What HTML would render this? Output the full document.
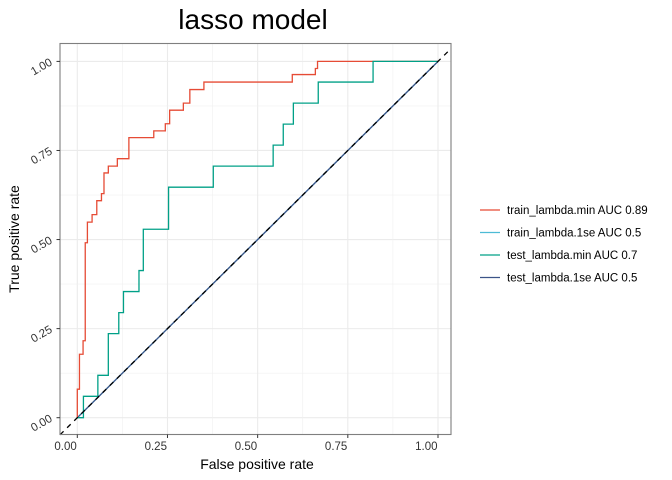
<!DOCTYPE html>
<html><head><meta charset="utf-8"><style>
body{margin:0;background:#fff;}
svg{display:block;font-family:"Liberation Sans",sans-serif;}
</style></head><body>
<svg id="chart" width="672" height="480" viewBox="0 0 672 480" xmlns="http://www.w3.org/2000/svg">
<text x="253" y="29" font-size="28" text-anchor="middle" fill="#000">lasso model</text>
<g id="grid"></g>
<g id="series"></g>
<rect x="60" y="43.5" width="391" height="391" fill="none" stroke="#7f7f7f" stroke-width="1.1"/>
<g id="axes"></g>
<text x="257" y="469" font-size="14" text-anchor="middle">False positive rate</text>
<text transform="translate(19,239) rotate(-90)" font-size="14" text-anchor="middle">True positive rate</text>
<g id="legend"></g>
</svg>
<script>
const ticks=[0,0.25,0.5,0.75,1];
const tickLabels=["0.00","0.25","0.50","0.75","1.00"];
const trainMinFpr=[0,0,0.006,0.006,0.016,0.016,0.022,0.022,0.028,0.028,0.041,0.041,0.054,0.054,0.067,0.067,0.074,0.074,0.086,0.086,0.111,0.111,0.143,0.143,0.212,0.212,0.244,0.244,0.256,0.256,0.294,0.294,0.312,0.312,0.351,0.351,0.596,0.596,0.66,0.66,0.666,0.666,1];
const trainMinTpr=[0,0.08,0.08,0.178,0.178,0.216,0.216,0.491,0.491,0.549,0.549,0.57,0.57,0.609,0.609,0.629,0.629,0.687,0.687,0.706,0.706,0.727,0.727,0.786,0.786,0.805,0.805,0.825,0.825,0.863,0.863,0.883,0.883,0.921,0.921,0.942,0.942,0.963,0.963,0.98,0.98,1,1];
const testMinFpr=[0,0.017,0.017,0.057,0.057,0.086,0.086,0.115,0.115,0.128,0.128,0.171,0.171,0.183,0.183,0.253,0.253,0.377,0.377,0.543,0.543,0.571,0.571,0.599,0.599,0.668,0.668,0.82,0.82,1];
const testMinTpr=[0,0,0.06,0.06,0.119,0.119,0.236,0.236,0.295,0.295,0.354,0.354,0.413,0.413,0.529,0.529,0.647,0.647,0.706,0.706,0.765,0.765,0.824,0.824,0.883,0.883,0.942,0.942,1,1];
const train1seFpr=[0,1], train1seTpr=[0,1];
const test1seFpr=[0,1], test1seTpr=[0,1];
const legendLabels=["train_lambda.min AUC 0.89","train_lambda.1se AUC 0.5","test_lambda.min AUC 0.7","test_lambda.1se AUC 0.5"];
const colors=["#E64B35","#4DBBD5","#00A087","#3C5488"];

const NS="http://www.w3.org/2000/svg";
const X=v=>77.3+v*360.7, Y=v=>417.7-v*356.3;
function mk(tag,attrs,parent){const e=document.createElementNS(NS,tag);for(const k in attrs)e.setAttribute(k,attrs[k]);parent.appendChild(e);return e;}
const grid=document.getElementById('grid'),series=document.getElementById('series'),axes=document.getElementById('axes'),legend=document.getElementById('legend');
mk('rect',{x:60,y:43.5,width:391,height:391,fill:'#fff'},grid);
for(let i=0;i<ticks.length;i++){
  if(i<ticks.length-1){const m=(ticks[i]+ticks[i+1])/2;
    const a=mk('line',{x1:X(m),x2:X(m),y1:43.5,y2:434.5,stroke:'#f0f0f0','stroke-width':0.6},grid);
    
    const b=mk('line',{x1:60,x2:451,y1:Y(m),y2:Y(m),stroke:'#f0f0f0','stroke-width':0.6},grid);
    }
  const gx=mk('line',{x1:X(ticks[i]),x2:X(ticks[i]),y1:43.5,y2:434.5,stroke:'#ebebeb','stroke-width':1.1},grid);
  
  const gy=mk('line',{x1:60,x2:451,y1:Y(ticks[i]),y2:Y(ticks[i]),stroke:'#ebebeb','stroke-width':1.1},grid);
  
  const tx=mk('line',{x1:X(ticks[i]),x2:X(ticks[i]),y1:434.5,y2:438,stroke:'#333'},axes);
  
  const lx=mk('text',{x:X(ticks[i])-0.5,y:450,'font-size':11.5,'text-anchor':'end',fill:'#333'},axes);lx.textContent=tickLabels[i];
  
  const ty=mk('line',{x1:56.5,x2:60,y1:Y(ticks[i]),y2:Y(ticks[i]),stroke:'#333'},axes);
  
  const ly=mk('text',{transform:`translate(53,${Y(ticks[i])+3}) rotate(-30)`,'font-size':11.5,'text-anchor':'end',fill:'#333'},axes);ly.textContent=tickLabels[i];
  
}
function path(xs,ys,color,name){
  let d='';for(let i=0;i<xs.length;i++)d+=(i?'L':'M')+X(xs[i]).toFixed(2)+','+Y(ys[i]).toFixed(2);
  const p=mk('path',{d:d,fill:'none',stroke:color,'stroke-width':1.3},series);
  
}
path(train1seFpr,train1seTpr,colors[1],'train-lambda-1se-curve');
path(test1seFpr,test1seTpr,colors[3],'test-lambda-1se-curve');
path(trainMinFpr,trainMinTpr,colors[0],'train-lambda-min-curve');
path(testMinFpr,testMinTpr,colors[2],'test-lambda-min-curve');
const dl=mk('line',{x1:60,y1:Y((60-77.3)/360.7),x2:451,y2:Y((451-77.3)/360.7),stroke:'#000','stroke-width':1.3,'stroke-dasharray':'5,5'},series);


for(let i=0;i<legendLabels.length;i++){
  const y=210+i*22.5;
  const g=mk('g',{},legend);
  
  
  mk('line',{x1:480,x2:500,y1:y,y2:y,stroke:colors[i],'stroke-width':1.3},g);
  const t=mk('text',{x:507,y:y+4,'font-size':11.5,fill:'#000'},g);t.textContent=legendLabels[i];
}
</script>
</body></html>
